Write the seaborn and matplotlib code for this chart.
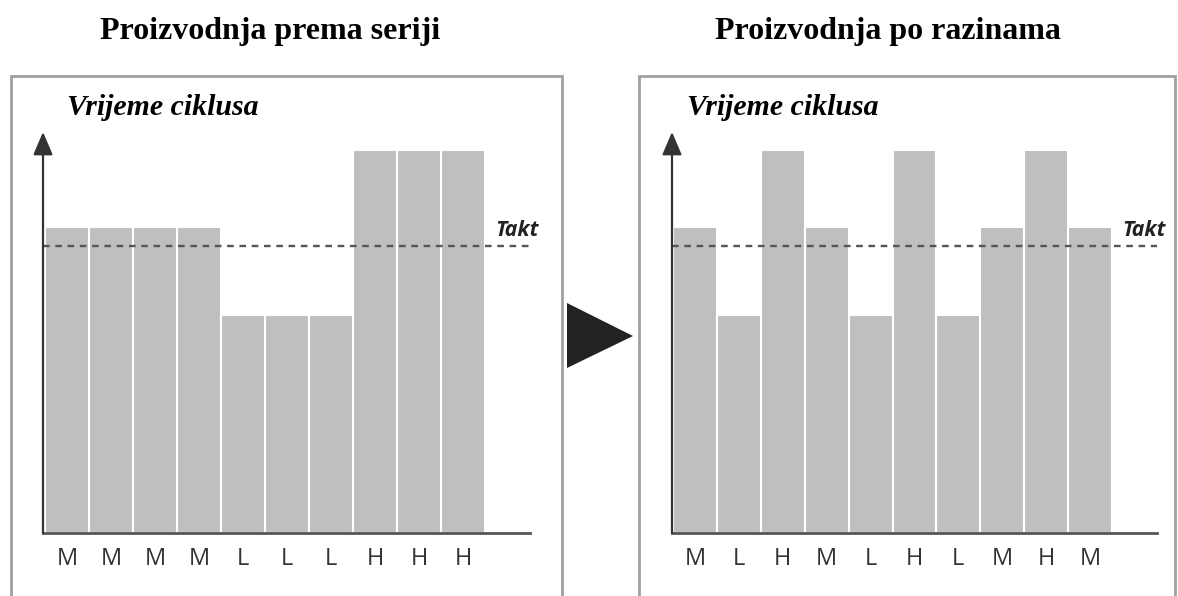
import matplotlib
matplotlib.use("Agg")
import matplotlib.pyplot as plt
from matplotlib.patches import Rectangle, Polygon
import seaborn as sns
import pandas as pd

# cycle time per product (H = high, M = medium, L = low), takt time
batch_labels = ["M", "M", "M", "M", "L", "L", "L", "H", "H", "H"]
batch_values = [8.0, 8.0, 8.0, 8.0, 5.7, 5.7, 5.7, 10.0, 10.0, 10.0]
level_labels = ["M", "L", "H", "M", "L", "H", "L", "M", "H", "M"]
level_values = [8.0, 5.7, 10.0, 8.0, 5.7, 10.0, 5.7, 8.0, 10.0, 8.0]
takt = 7.5
y_top = 10.47

titles = ["Proizvodnja prema seriji", "Proizvodnja po razinama"]
y_label = "Vrijeme ciklusa"

W, H = 1178, 596

sns.set_style("white")
plt.rcParams["font.family"] = ["Open Sans", "DejaVu Sans"]

fig = plt.figure(figsize=(W / 100, H / 100), dpi=100)


def px_rect(left, right, top, bottom):
    return [left / W, 1 - bottom / H, (right - left) / W, (bottom - top) / H]


def draw_panel(ax, labels, values, bar_px, first_px):
    df = pd.DataFrame({"pos": list(range(len(values))), "value": values})
    sns.barplot(data=df, x="pos", y="value", color="#bfbfbf", saturation=1,
                width=1, edgecolor="white", linewidth=1.5, ax=ax)
    ax_px = ax.get_position().width * W
    x0 = -0.5 - first_px / bar_px
    ax.set_xlim(x0, x0 + ax_px / bar_px)
    ax.set_ylim(0, y_top)
    ax.set_xlabel("")
    ax.set_ylabel("")
    ax.set_yticks([])
    ax.set_xticks(range(len(labels)))
    ax.set_xticklabels(labels, fontsize=17, color="#333333",
                       fontfamily="Open Sans")
    ax.tick_params(axis="x", length=0, pad=10)
    for s in ["top", "right", "left"]:
        ax.spines[s].set_visible(False)
    ax.spines["bottom"].set_color("#555555")
    ax.spines["bottom"].set_linewidth(2)
    ax.annotate("", xy=(0, 1), xycoords="axes fraction",
                xytext=(0, 0), textcoords="axes fraction",
                arrowprops=dict(arrowstyle="-|>,head_width=0.6,head_length=1.4",
                                color="#333333", lw=1.6, mutation_scale=10,
                                shrinkA=0, shrinkB=0),
                annotation_clip=False)
    ax.axhline(takt, color="#555555", lw=1.7, ls=(0, (2.8, 2.4)))
    ax.text(ax.get_xlim()[1] + 9 / bar_px, takt + 0.25, "Takt",
            ha="right", va="baseline", fontsize=15.5, fontweight="bold",
            fontstyle="italic", color="#222222", fontfamily="Open Sans",
            clip_on=False)
    ax.patch.set_alpha(0)


ax1 = fig.add_axes(px_rect(43, 530, 132, 533))
draw_panel(ax1, batch_labels, batch_values, 44.0, 2)
ax2 = fig.add_axes(px_rect(672, 1157, 132, 533))
draw_panel(ax2, level_labels, level_values, 43.9, 1)

# panel frames
for left, right in [(11, 562), (639, 1175)]:
    fig.add_artist(Rectangle((left / W, -0.05), (right - left) / W,
                             (H - 76) / H + 0.05, transform=fig.transFigure,
                             fill=False, edgecolor="#a0a0a0", lw=2))

# titles
for cx, t in zip([270, 888], titles):
    fig.text(cx / W, 1 - 31 / H, t, ha="center", va="center", fontsize=23,
             fontweight="bold", fontfamily="Liberation Serif", color="black")
for lx in [67, 687]:
    fig.text(lx / W, 1 - 115 / H, y_label, ha="left", va="baseline",
             fontsize=21.5, fontweight="bold", fontstyle="italic",
             fontfamily="Liberation Serif", color="black")

# arrow between panels
tri = [(567, 303), (567, 368), (633, 336)]
fig.add_artist(Polygon([(x / W, 1 - y / H) for x, y in tri], closed=True,
                       transform=fig.transFigure, facecolor="#222222",
                       edgecolor="none"))

fig.savefig("out.png", dpi=100, facecolor="white")
plt.close(fig)
